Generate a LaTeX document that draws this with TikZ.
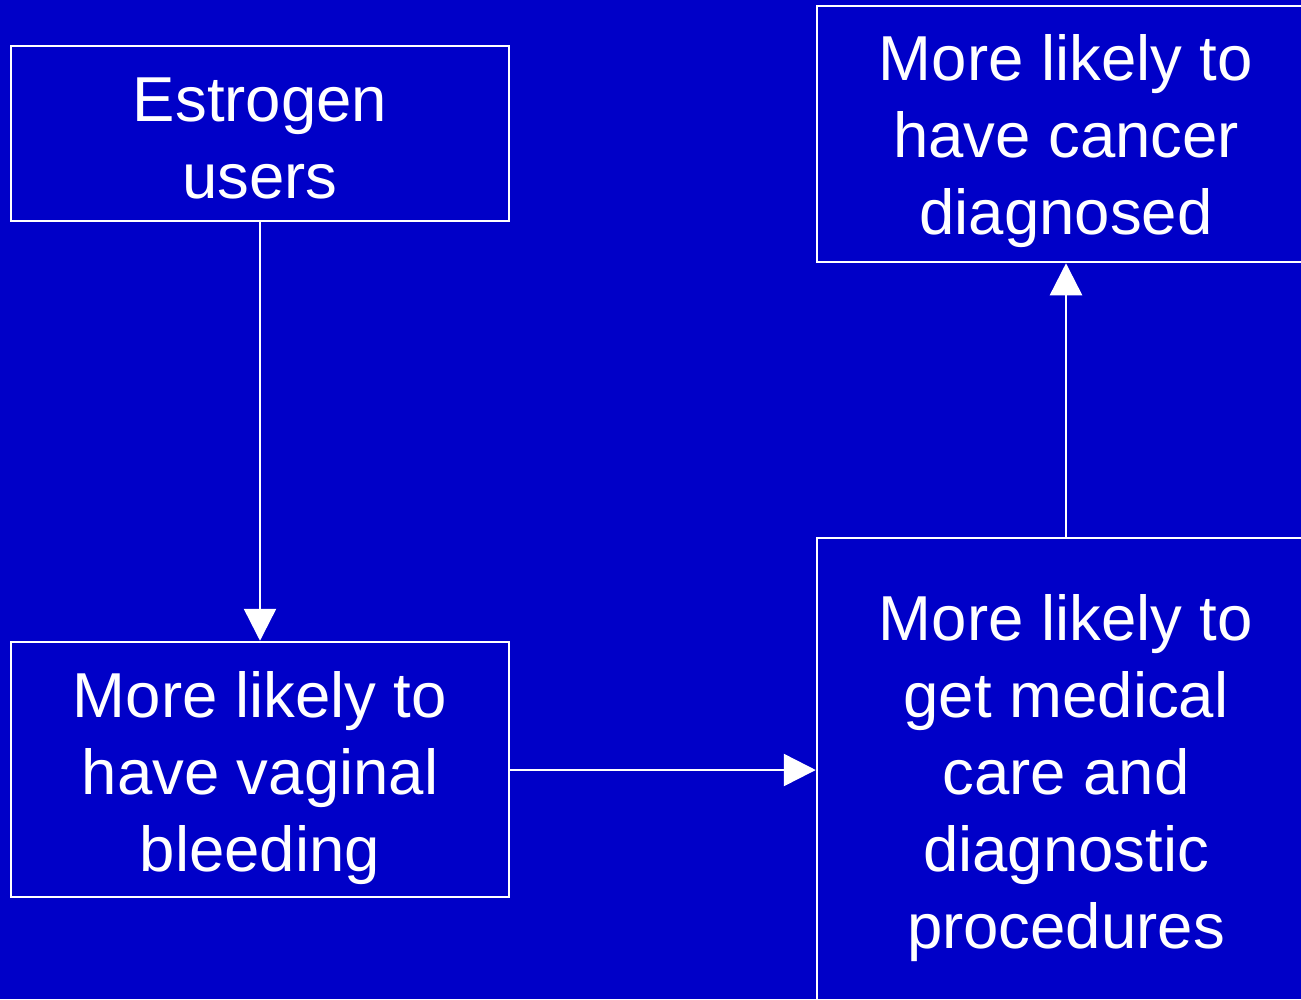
\documentclass[tikz,border=0pt]{standalone}
\usepackage{fontspec}
\setmainfont{Liberation Sans}
\usetikzlibrary{arrows.meta}
\definecolor{slideblue}{RGB}{0,0,200}
\begin{document}
\begin{tikzpicture}[x=1pt,y=-1pt,
  box/.style={draw=white, line width=2.5pt, inner sep=0pt, minimum width=498pt},
  label/.style={text=white, align=center, inner sep=0pt,
    font=\fontsize{63.5}{77}\selectfont},
  link/.style={draw=white, line width=2.5pt,
    -{Triangle[length=32pt,width=32pt]}}]
  % page area and background
  \clip (0,0) rectangle (1301,999);
  \fill[slideblue] (0,0) rectangle (1301,999);
  % boxes
  \node[box, minimum height=175pt] (estrogen) at (260,133.5) {};
  \node[box, minimum height=255pt] (bleeding) at (260,769.5) {};
  \node[box, minimum height=256pt] (cancer) at (1066,134) {};
  \node[box, minimum height=470pt] (care) at (1066,773) {};
  % box texts
  \node[label] (estrogentext) at (260,138) {Estrogen\\users};
  \node[label] (bleedingtext) at (260,778) {More likely to\\have vaginal\\bleeding};
  \node[label] (cancertext) at (1066,141) {More likely to\\have cancer\\diagnosed};
  \node[label] (caretext) at (1066,778) {More likely to\\get medical\\care and\\diagnostic\\procedures};
  % connectors
  \draw[link] (estrogen.south) -- (bleeding.north);
  \draw[link] (bleeding.east |- 0,770) -- (care.west |- 0,770);
  \draw[link] (care.north) -- (cancer.south);
\end{tikzpicture}
\end{document}
